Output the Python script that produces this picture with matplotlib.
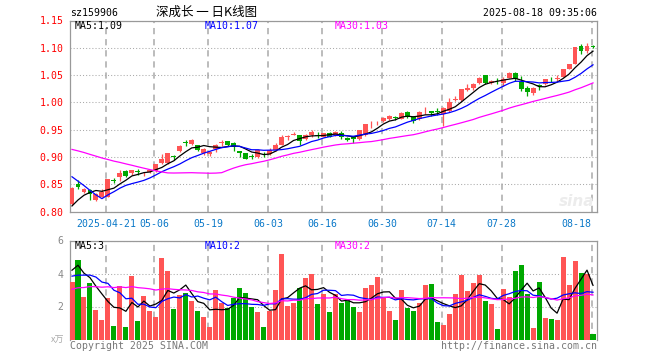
import matplotlib
matplotlib.use('Agg')
import matplotlib.pyplot as plt
import numpy as np

plt.rcParams['lines.scale_dashes'] = False
plt.rcParams['font.family'] = ['DejaVu Sans Mono', 'Noto Sans CJK SC']

# ---------------- data ----------------
open_ = [0.815, 0.851, 0.8366, 0.8396, 0.822, 0.8275, 0.8275, 0.858, 0.864, 0.875,
         0.8714, 0.874, 0.8718, 0.8727, 0.874, 0.890, 0.889, 0.902, 0.9116, 0.927,
         0.924, 0.922, 0.907, 0.9057, 0.914, 0.925, 0.9295, 0.926, 0.911, 0.9067,
         0.9012, 0.901, 0.9055, 0.9049, 0.9128, 0.923, 0.9365, 0.9405, 0.9396, 0.9323,
         0.9396, 0.9400, 0.9372, 0.9433, 0.9396, 0.9445, 0.9354, 0.937, 0.9323, 0.9396,
         0.9562, 0.9635, 0.9659, 0.970, 0.9725, 0.970, 0.9823, 0.9738, 0.969, 0.982,
         0.9843, 0.9833, 0.9782, 0.9843, 1.005, 1.0045, 1.0235, 1.026, 1.0351, 1.0504,
         1.035, 1.0393, 1.0363, 1.0455, 1.0547, 1.0376, 1.027, 1.018, 1.0303, 1.0333,
         1.0428, 1.0435, 1.0468, 1.062, 1.0712, 1.1025, 1.0945, 1.1037]
high = [0.845, 0.858, 0.8435, 0.842, 0.834, 0.841, 0.860, 0.862, 0.876, 0.8765,
        0.877, 0.878, 0.8735, 0.877, 0.888, 0.905, 0.908, 0.903, 0.922, 0.932,
        0.933, 0.923, 0.916, 0.911, 0.924, 0.931, 0.930, 0.927, 0.912, 0.9075,
        0.905, 0.914, 0.909, 0.917, 0.925, 0.941, 0.941, 0.9455, 0.941, 0.943,
        0.949, 0.946, 0.944, 0.946, 0.947, 0.948, 0.937, 0.938, 0.950, 0.961,
        0.966, 0.966, 0.974, 0.977, 0.975, 0.983, 0.984, 0.975, 0.985, 0.992,
        0.9845, 0.989, 0.992, 1.009, 1.011, 1.025, 1.033, 1.036, 1.047, 1.051,
        1.041, 1.044, 1.046, 1.055, 1.055, 1.048, 1.030, 1.028, 1.034, 1.043,
        1.047, 1.051, 1.062, 1.071, 1.1015, 1.107, 1.108, 1.105]
low = [0.813, 0.841, 0.834, 0.821, 0.8205, 0.826, 0.826, 0.853, 0.856, 0.863,
       0.868, 0.868, 0.866, 0.8715, 0.873, 0.887, 0.888, 0.895, 0.910, 0.921,
       0.922, 0.912, 0.904, 0.902, 0.910, 0.921, 0.921, 0.911, 0.8997, 0.896,
       0.897, 0.899, 0.901, 0.904, 0.912, 0.922, 0.932, 0.9400, 0.922, 0.932,
       0.936, 0.934, 0.936, 0.936, 0.939, 0.933, 0.929, 0.926, 0.931, 0.939,
       0.954, 0.958, 0.965, 0.968, 0.967, 0.969, 0.971, 0.962, 0.968, 0.978,
       0.9752, 0.977, 0.957, 0.983, 1.002, 1.003, 1.021, 1.022, 1.034, 1.033,
       1.034, 1.033, 1.031, 1.045, 1.039, 1.021, 1.012, 1.014, 1.022, 1.032,
       1.037, 1.040, 1.046, 1.061, 1.070, 1.088, 1.090, 1.099]
close = [0.844, 0.8445, 0.8415, 0.832, 0.832, 0.8366, 0.859, 0.856, 0.8705, 0.866,
         0.8758, 0.8728, 0.8725, 0.8764, 0.8872, 0.896, 0.9067, 0.8995, 0.9207, 0.9262,
         0.9311, 0.9128, 0.915, 0.910, 0.922, 0.928, 0.922, 0.919, 0.908, 0.897,
         0.9003, 0.9128, 0.9048, 0.9128, 0.923, 0.9372, 0.9372, 0.9418, 0.9293, 0.9396,
         0.9457, 0.9393, 0.9433, 0.9372, 0.9457, 0.9372, 0.9305, 0.9335, 0.9494, 0.960,
         0.957, 0.9642, 0.972, 0.976, 0.9718, 0.981, 0.9738, 0.966, 0.983, 0.9828,
         0.9813, 0.9827, 0.9892, 1.0015, 1.0058, 1.024, 1.0272, 1.0333, 1.0456, 1.0363,
         1.040, 1.0387, 1.0437, 1.0547, 1.0437, 1.0241, 1.020, 1.027, 1.0297, 1.0425,
         1.0422, 1.0440, 1.0608, 1.070, 1.1006, 1.0933, 1.1037, 1.1018]
volume = [3.5, 4.8, 2.6, 3.44, 1.8, 1.16, 2.52, 0.84, 3.24, 0.78,
          3.84, 1.14, 2.64, 1.74, 1.38, 4.94, 4.16, 1.86, 2.72, 2.82,
          2.34, 1.74, 1.34, 0.74, 3.0, 2.2, 1.88, 2.54, 3.12, 2.82,
          1.94, 1.64, 0.78, 1.7, 3.0, 5.16, 2.04, 2.24, 3.1, 3.72,
          3.96, 2.16, 2.78, 1.68, 2.78, 2.24, 2.44, 1.98, 1.68, 3.12,
          3.3, 3.78, 2.52, 1.74, 1.2, 3.0, 1.92, 1.74, 2.24, 3.32,
          3.36, 1.08, 0.9, 1.56, 2.76, 3.9, 2.94, 3.42, 3.9, 2.34,
          2.16, 0.66, 3.06, 2.58, 4.14, 4.5, 2.78, 0.72, 3.48, 1.32,
          1.26, 1.2, 4.98, 3.32, 4.74, 4.02, 3.96, 0.36]
# estimated sessions before the visible window (needed for the moving averages)
prior_close = [0.925, 0.930, 0.935, 0.930, 0.938, 0.942, 0.945, 0.940, 0.948, 0.952,
               0.955, 0.950, 0.953, 0.958, 0.955, 0.960, 0.905, 0.915, 0.920, 0.925,
               0.925, 0.922, 0.920, 0.915, 0.905, 0.790, 0.798, 0.806, 0.8145]
prior_volume = [1.9, 2.2, 1.7, 2.1, 2.0, 1.8, 2.3, 1.9, 2.1, 2.0,
                3.1, 3.5, 3.0, 3.6, 3.2, 3.4, 3.1, 3.5, 3.2, 3.2,
                4.2, 2.6, 3.4, 3.0, 4.2, 3.3, 5.0, 4.8, 4.4]

tick_index = [6, 14, 23, 33, 42, 52, 62, 72, 87]
tick_labels = ['2025-04-21', '05-06', '05-19', '06-03', '06-16', '06-30', '07-14', '07-28', '08-18']
price_ticks = [0.80, 0.85, 0.90, 0.95, 1.00, 1.05, 1.10, 1.15]
vol_ticks = [2, 4, 6]
price_ma_text = ['MA5:1.09', 'MA10:1.07', 'MA30:1.03']
vol_ma_text = ['MA5:3', 'MA10:2', 'MA30:2']

# ---------------- styling ----------------
RED = '#ff5555'
GREEN = '#00a800'
GRID = '#aaaaaa'
FRAME = '#999999'
MA_COLORS = ['#000000', '#0000ff', '#ff00ff']
FS = 7.1

W, H = 660, 360
fig = plt.figure(figsize=(6.6, 3.6), dpi=100)
fig.patch.set_facecolor('white')


def rect(l, t, r, b):
    return [l / W, 1 - b / H, (r - l) / W, (b - t) / H]


def ftext(x, y, s, **kw):
    fig.text(x / W, 1 - y / H, s, va='center', **kw)


ax = fig.add_axes(rect(70, 20.5, 597, 211.7))
axv = fig.add_axes(rect(70, 240.5, 597, 339.5))

n = len(close)
x = np.arange(n)
o = np.array(open_); c = np.array(close); h = np.array(high); l = np.array(low)
v = np.array(volume)
up = c >= o
cols = np.where(up, RED, GREEN)


def moving_avg(prior, vals, k):
    arr = np.array(list(prior) + list(vals))
    p = len(prior)
    return np.array([arr[p + i - k + 1:p + i + 1].mean() for i in range(len(vals))])


px_per_unit = (593 - 72) / 87.0
xlim = (-2 / px_per_unit, 87 + 4 / px_per_unit)

# ---- price panel ----
min_h = 0.0014
body_bottom = np.minimum(o, c)
body_h = np.maximum(np.abs(c - o), min_h)
ax.text(0.995, 0.015, 'sina', transform=ax.transAxes, ha='right', va='bottom',
        fontsize=11, fontweight='bold', style='italic', color='#ececec',
        family='DejaVu Sans', zorder=1)
ax.vlines(x, l, h, colors=cols, lw=0.9, zorder=3)
ax.bar(x, body_h, bottom=body_bottom, width=0.82, color=cols, linewidth=0, zorder=3)
for k, col in zip([5, 10, 30], MA_COLORS):
    ax.plot(x, moving_avg(prior_close, close, k), color=col, lw=0.9, zorder=4)

ax.set_xlim(*xlim)
ax.set_ylim(0.80, 1.15)
ax.set_yticks(price_ticks)
ax.set_yticklabels(['%.2f' % t for t in price_ticks], color='#ff0000', fontsize=FS)
grid_x = [t - 0.25 for t in tick_index]
ax.set_xticks(grid_x)
ax.set_xticklabels(tick_labels, color='#0a78c8', fontsize=FS)
lab = ax.get_xticklabels()
lab[-1].set_ha('right')
lab[0].set_ha('center')
ax.tick_params(axis='both', length=0)
ax.tick_params(axis='y', pad=4.5)
ax.tick_params(axis='x', pad=5)
ax.xaxis.grid(True, linestyle=(0, (4.5, 3.5)), color=GRID, lw=1.1)
ax.yaxis.grid(True, linestyle=(0, (0.75, 1.5)), color=GRID, lw=0.75)
ax.set_axisbelow(True)
for s in ax.spines.values():
    s.set_color(FRAME); s.set_linewidth(0.9)

# ---- volume panel ----
axv.bar(x, v, width=0.84, color=cols, linewidth=0, zorder=3)
for k, col in zip([5, 10, 30], MA_COLORS):
    axv.plot(x, moving_avg(prior_volume, volume, k), color=col, lw=0.9, zorder=4)
axv.set_xlim(*xlim)
axv.set_ylim(0, 6)
axv.set_yticks(vol_ticks)
axv.set_yticklabels([str(t) for t in vol_ticks], color='#888888', fontsize=FS)
axv.set_xticks(grid_x)
axv.set_xticklabels([])
axv.tick_params(axis='both', length=0)
axv.tick_params(axis='y', pad=4.5)
axv.xaxis.grid(True, linestyle=(0, (4.5, 3.5)), color=GRID, lw=1.1)
axv.yaxis.grid(True, linestyle=(0, (0.75, 1.5)), color=GRID, lw=0.75)
axv.set_axisbelow(True)
for s in axv.spines.values():
    s.set_color(FRAME); s.set_linewidth(0.9)
axv.spines['bottom'].set_visible(False)

# ---- header / footer text ----
ftext(70, 13, 'sz159906', fontsize=FS, color='#000000', ha='left')
ftext(207, 12.5, '深成长 一 日K线图', fontsize=9, color='#000000', ha='center',
      family=['Noto Sans CJK SC', 'DejaVu Sans'])
ftext(597, 13, '2025-08-18 09:35:06', fontsize=FS, color='#000000', ha='right')

for xp, s, col in zip([75, 205, 335], price_ma_text, MA_COLORS):
    ftext(xp, 26, s, fontsize=FS, color=col, ha='left')
for xp, s, col in zip([75, 205, 335], vol_ma_text, MA_COLORS):
    ftext(xp, 246, s, fontsize=FS, color=col, ha='left')

ftext(64, 340, 'x万', fontsize=6.5, color='#aaaaaa', ha='right',
      family=['Noto Sans CJK SC', 'DejaVu Sans'])
ftext(70, 346, 'Copyright 2025 SINA.COM', fontsize=FS, color='#777777', ha='left')
ftext(597, 346, 'http://finance.sina.com.cn', fontsize=FS, color='#777777', ha='right')

fig.savefig('out.png', dpi=100)
